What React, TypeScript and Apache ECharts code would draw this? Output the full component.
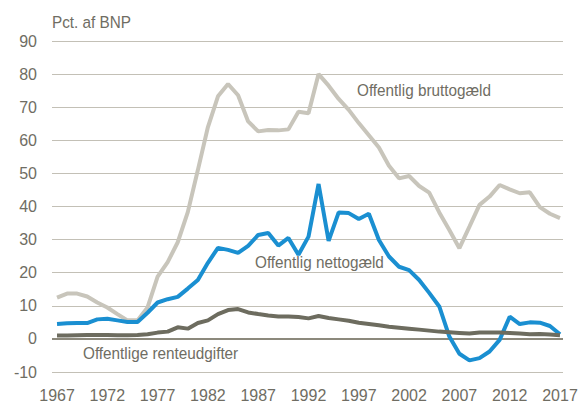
import React, { useEffect, useRef } from "react";
import * as echarts from "echarts";

const years: number[] = [];
for (let y = 1967; y <= 2017; y++) years.push(y);

const xTickLabels = [1967, 1972, 1977, 1982, 1987, 1992, 1997, 2002, 2007, 2012, 2017];

const grossDebt = [
  12.5, 13.7, 13.7, 12.8, 11.0, 9.5, 7.5, 5.6, 5.6, 9.5,
  18.8, 23.2, 29.2, 38.3, 51.0, 64.0, 73.3, 77.0, 73.6, 65.7,
  62.7, 63.1, 63.0, 63.3, 68.6, 68.2, 80.0, 76.5, 72.5, 69.2,
  65.2, 61.5, 57.8, 52.3, 48.5, 49.2, 46.2, 44.2, 38.2, 32.9,
  27.4, 33.9, 40.5, 43.0, 46.5, 45.2, 44.0, 44.3, 39.8, 37.8,
  36.5,
];

const netDebt = [
  4.5, 4.7, 4.8, 4.8, 5.9, 6.1, 5.6, 5.1, 5.1, 7.9,
  11.0, 12.0, 12.7, 15.2, 17.8, 23.0, 27.5, 26.9, 26.0, 28.1,
  31.4, 32.0, 28.2, 30.5, 25.4, 30.9, 46.8, 29.6, 38.2, 38.0,
  36.2, 37.8, 29.9, 24.9, 21.8, 20.8, 17.8, 13.9, 9.8, 0.7,
  -4.5, -6.5, -5.8, -3.8, -0.3, 6.7, 4.5, 5.0, 4.9, 3.9,
  1.4,
];

const interest = [
  1.0, 1.0, 1.1, 1.2, 1.2, 1.2, 1.1, 1.1, 1.2, 1.4,
  1.9, 2.2, 3.5, 3.1, 4.8, 5.6, 7.5, 8.7, 9.0, 8.0,
  7.5, 7.1, 6.8, 6.8, 6.6, 6.2, 6.9, 6.3, 5.9, 5.5,
  4.9, 4.5, 4.1, 3.7, 3.4, 3.1, 2.8, 2.5, 2.2, 2.0,
  1.8, 1.6, 1.9, 1.9, 1.9, 1.8, 1.6, 1.4, 1.5, 1.3,
  1.1,
];

const FONT = "'Liberation Sans', Arial, sans-serif";
const TEXT = "#6f6d63";

const label = (text: string, x: number, y: number) => ({
  type: "text",
  x,
  y,
  scaleX: 0.9,
  z: 10,
  style: { text, fill: TEXT, font: `17px ${FONT}`, verticalAlign: "top", align: "left" },
});

export default function App() {
  const ref = useRef<HTMLDivElement>(null);

  useEffect(() => {
    if (!ref.current) return;
    const chart = echarts.init(ref.current, undefined, { renderer: "svg" });
    const pairs = (vals: number[]) => years.map((y, i) => [y, vals[i]]);
    chart.setOption({
      animation: false,
      backgroundColor: "#ffffff",
      grid: { left: 52, right: 22, top: 41, bottom: 31, containLabel: false },
      xAxis: {
        type: "value",
        min: 1966.5,
        max: 2017.3,
        axisLine: { show: false },
        axisTick: { show: false },
        splitLine: { show: false },
        axisLabel: {
          customValues: xTickLabels,
          color: TEXT,
          fontFamily: FONT,
          fontSize: 16,
          margin: 15,
          formatter: (v: number) => String(v),
        },
      },
      yAxis: {
        type: "value",
        min: -10,
        max: 90,
        interval: 10,
        axisLine: { show: false },
        axisTick: { show: false },
        axisLabel: { color: TEXT, fontFamily: FONT, fontSize: 16, margin: 15 },
        splitLine: { show: true, lineStyle: { color: "#c3c0b6", width: 1 } },
      },
      graphic: [
        label("Pct. af BNP", 52, 13),
        label("Offentlig bruttogæld", 357, 81),
        label("Offentlig nettogæld", 255, 253),
        label("Offentlige renteudgifter", 83, 344),
      ],
      series: [
        {
          type: "line",
          name: "zero",
          data: [[1966.5, 0], [2017.3, 0]],
          symbol: "none",
          silent: true,
          lineStyle: { color: "#8c897c", width: 2 },
          z: 1,
        },
        {
          type: "line",
          name: "Offentlig bruttogæld",
          data: pairs(grossDebt),
          symbol: "none",
          lineStyle: { color: "#c8c5bb", width: 4 },
          z: 2,
        },
        {
          type: "line",
          name: "Offentlig nettogæld",
          data: pairs(netDebt),
          symbol: "none",
          lineStyle: { color: "#1a8fd1", width: 4 },
          z: 3,
        },
        {
          type: "line",
          name: "Offentlige renteudgifter",
          data: pairs(interest),
          symbol: "none",
          lineStyle: { color: "#6d6c5f", width: 4 },
          z: 4,
        },
      ],
    });
    return () => chart.dispose();
  }, []);

  return (
    <div
      ref={ref}
      style={{ position: "absolute", left: 0, top: 0, width: 585, height: 403 }}
    />
  );
}
